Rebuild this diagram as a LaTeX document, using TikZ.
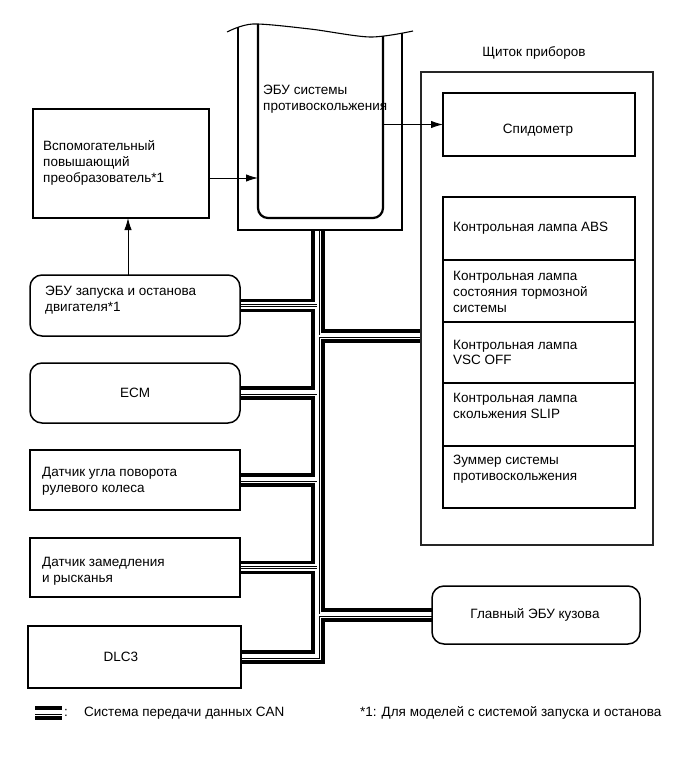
\documentclass[tikz,border=0pt]{standalone}
\usepackage{fontspec}
\setmainfont{Liberation Sans}
\usetikzlibrary{arrows.meta}
\pgfdeclarelayer{bg}
\pgfsetlayers{bg,main}
\tikzset{
 bx/.style={draw=black, line width=1.5pt, fill=white, inner sep=0pt, outer sep=0pt},
 rbx/.style={bx, rounded corners=12pt},
 thinbox/.style={draw=black!85, line width=1.1pt, fill=white, inner sep=0pt, outer sep=0pt},
 ghost/.style={inner sep=0pt, outer sep=0pt},
 lbl/.style={font=\fontsize{13.5}{15.8}\selectfont, align=left, inner sep=0pt, anchor=west},
 clbl/.style={font=\fontsize{13.5}{15.8}\selectfont, align=center, inner sep=0pt},
 arr/.style={line width=1pt, -{Latex[length=12pt,width=7.5pt]}},
 busa/.style={line width=13.5pt, draw=black, line join=miter},
 busb/.style={line width=6.5pt, draw=white, line join=miter},
 busc/.style={line width=3pt, draw=black, line join=miter},
 busd/.style={line width=1.1pt, draw=white, line join=miter},
}
\newcommand\canpaths[1]{%
  \path[#1] (jt) -- (jb) -- (dlc);
  \path[#1] (jt |- ss) -- (ss);
  \path[#1] (jt |- ecm) -- (ecm);
  \path[#1] (jt |- steer) -- (steer);
  \path[#1] (jt |- yaw) -- (yaw);
  \path[#1] (jt |- body) -- (body);
  \path[#1] (ji) -- (ipanel.west |- ji);
  \path[#1] (lg1) -- (lg2);
}
\begin{document}
\begin{tikzpicture}[x=1pt,y=-1pt]
\useasboundingbox (0,0) rectangle (690,757);

% ---------- ECU (anti-skid) ----------
\node[ghost, minimum width=164pt, minimum height=200pt] (ecuout) at (320,130) {};
\node[ghost, minimum width=125pt, minimum height=194pt] (ecuin) at (320.5,121) {};
\begin{scope}
  \clip plot[smooth] coordinates {(227,32) (253,24) (310,29) (370,37) (413,31)} -- (413,240) -- (227,240) -- cycle;
  \draw[line width=1.1pt] (238,0) -- (238,230) -- (402,230) -- (402,0);
  \draw[line width=2.2pt, rounded corners=10pt] (258,0) -- (258,218) -- (383,218) -- (383,0);
\end{scope}
\draw[line width=1.1pt] plot[smooth] coordinates {(227,32) (253,24) (310,29) (370,37) (413,31)};
\node[lbl] (ecutxt) at (263,99) {ЭБУ системы\\противоскольжения};

% ---------- left column ----------
\node[bx, minimum width=176pt, minimum height=109pt] (booster) at (121,163.5) {};
\node[lbl] (boostertxt) at (43,163) {Вспомогательный\\повышающий\\преобразователь*1};

\node[rbx, minimum width=210pt, minimum height=61pt] (ss) at (135,305.5) {};
\node[lbl] (sstxt) at (45,300) {ЭБУ запуска и останова\\двигателя*1};

\node[rbx, minimum width=210pt, minimum height=60pt] (ecm) at (135,393) {};
\node[clbl] (ecmtxt) at (135,393) {ECM};

\node[bx, minimum width=210pt, minimum height=60pt] (steer) at (135,480) {};
\node[lbl] (steertxt) at (42,481) {Датчик угла поворота\\рулевого колеса};

\node[bx, minimum width=210pt, minimum height=59pt] (yaw) at (135,567.5) {};
\node[lbl] (yawtxt) at (42,571) {Датчик замедления\\и рысканья};

\node[bx, minimum width=213pt, minimum height=62pt] (dlc) at (134.5,657) {};
\node[clbl] (dlctxt) at (121,657) {DLC3};

% ---------- instrument panel ----------
\node[clbl] (iptitle) at (534,53) {Щиток приборов};
\node[thinbox, minimum width=232pt, minimum height=473pt] (ipanel) at (537,308.5) {};
\node[bx, minimum width=192pt, minimum height=63pt] (speedo) at (539,124.5) {};
\node[clbl] (speedotxt) at (538,130) {Спидометр};

\node[bx, minimum width=192pt, minimum height=63pt] (l1) at (539,228.5) {};
\node[bx, minimum width=192pt, minimum height=62pt] (l2) at (539,291) {};
\node[bx, minimum width=192pt, minimum height=61pt] (l3) at (539,352.5) {};
\node[bx, minimum width=192pt, minimum height=63pt] (l4) at (539,414.5) {};
\node[bx, minimum width=192pt, minimum height=62pt] (l5) at (539,477) {};
\node[lbl] (l1t) at (453,228) {Контрольная лампа ABS};
\node[lbl] (l2t) at (453,292) {Контрольная лампа\\состояния тормозной\\системы};
\node[lbl] (l3t) at (453,352.5) {Контрольная лампа\\VSC OFF};
\node[lbl] (l4t) at (453,406) {Контрольная лампа\\скольжения SLIP};
\node[lbl] (l5t) at (453,469.5) {Зуммер системы\\противоскольжения};

\node[rbx, minimum width=208pt, minimum height=58pt] (body) at (536,615) {};
\node[clbl] (bodytxt) at (535,615) {Главный ЭБУ кузова};

% ---------- arrows ----------
\draw[arr] (booster.east |- 0,178) -- (ecuin.west |- 0,178);
\draw[arr] (ecuin.east |- speedo) -- (speedo.west);
\draw[arr] ([xshift=-7pt]ss.north) -- ([xshift=-7pt]ss.north |- booster.south);

% ---------- CAN bus ----------
\coordinate (jt) at (318,230);
\coordinate (jb) at (318,657);
\coordinate (ji) at (318,336);
\coordinate (lg1) at (35,713);
\coordinate (lg2) at (62,713);
\begin{pgfonlayer}{bg}
  \canpaths{busa}
  \canpaths{busb}
  \canpaths{busc}
  \canpaths{busd}
\end{pgfonlayer}

% ---------- legend ----------
\node[lbl] (legcolon) at (64,713) {:};
\node[lbl] (legcan) at (84,713) {Система передачи данных CAN};
\node[lbl] (legnote) at (360,713) {*1: Для моделей с системой запуска и останова};
\end{tikzpicture}
\end{document}
